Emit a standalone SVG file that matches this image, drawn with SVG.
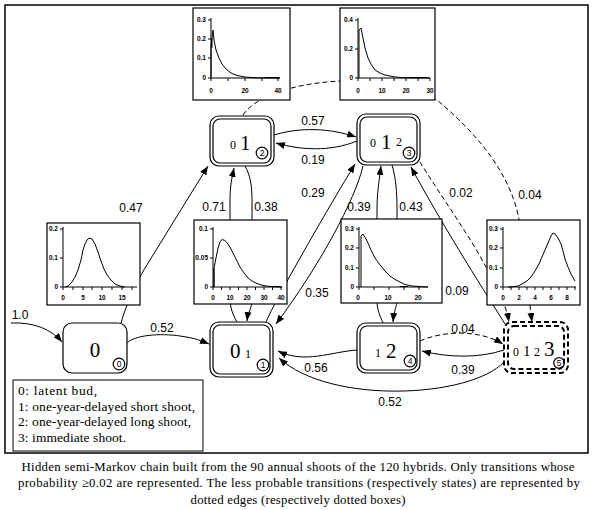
<svg xmlns="http://www.w3.org/2000/svg" width="597" height="510" viewBox="0 0 597 510">
<style>
.frame{fill:none;stroke:#000;stroke-width:1.5}
.nb{fill:#fff;stroke:#000;stroke-width:1.2}
.nd{fill:#fff;stroke:#000;stroke-width:2;stroke-dasharray:5 3}
.e{fill:none;stroke:#000;stroke-width:1;marker-end:url(#ah)}
.ed{fill:none;stroke:#000;stroke-width:1;stroke-dasharray:5 3}
.lab{font-family:"Liberation Sans",Arial,sans-serif;font-size:12px;text-anchor:middle;fill:#000}
.ser{font-family:"Liberation Serif","Times New Roman",serif;fill:#000}
.big{font-size:21px}
.sm{font-size:12px}
.cr{fill:none;stroke:#000;stroke-width:1.2}
.cd{font-family:"Liberation Sans",Arial,sans-serif;font-size:8.5px;text-anchor:middle;fill:#000}
.pbox{fill:#fff;stroke:#000;stroke-width:1.2}
.ax{fill:none;stroke:#000;stroke-width:1}
.cv{fill:none;stroke:#000;stroke-width:1}
.tk{font-family:"Liberation Sans",Arial,sans-serif;font-size:6.5px;font-weight:bold;fill:#000}
.ty{text-anchor:end}
.tx{text-anchor:middle}
.leg{font-family:"Liberation Serif","Times New Roman",serif;font-size:13.5px;fill:#000}
.cap{font-family:"Liberation Serif","Times New Roman",serif;font-size:12.8px;fill:#000;text-anchor:middle}
</style>
<defs>
<marker id="ah" markerWidth="9" markerHeight="7" refX="9" refY="3.5" orient="auto" markerUnits="userSpaceOnUse"><path d="M0,0 L9,3.5 L0,7 z" fill="#000"/></marker>
</defs>
<rect class="frame" x="5" y="5" width="583" height="448"/>

<g id="connectors">
<path class="e" d="M11,323 C35,322 52,330 62,342"/>
<path class="e" d="M127,343 C135,335 160,333 180,336 C195,338 202,341 209,344"/>
<path class="e" d="M121,323 C126,305 135,285 145,268 L208,166"/>
<path class="e" d="M237,322 C233,315 230,308 230,298 L230,200 C230,185 232,178 234,168"/>
<path class="e" d="M245,166 C250,175 252,185 252,200 L252,300 C252,308 248,312 247,321"/>
<path class="e" d="M266,322 C275,300 330,205 355,164"/>
<path class="e" d="M363,166 C355,200 320,265 276,324"/>
<path class="e" d="M274,135 C300,127 330,128 356,137"/>
<path class="e" d="M357,141 C330,152 300,150 276,143"/>
<path class="e" d="M392,165 C396,178 397,193 397,210 L397,300 C397,306 394,310 393,322"/>
<path class="e" d="M383,323 C380,316 377,310 377,300 L377,210 C377,193 379,182 381,166"/>
<path class="e" d="M357,350 C330,352 305,364 278,351"/>
<path class="e" d="M504,362 C470,398 330,405 279,358"/>
<path class="ed" marker-end="url(#ah)" d="M420,341 C445,330 480,330 503,344"/>
<path class="e" d="M504,350 C480,358 450,358 422,351"/>
<path class="e" d="M505,324 C490,300 445,230 411,167"/>
<path class="ed" marker-end="url(#ah)" d="M420,162 C440,195 480,250 492,280 C500,295 506,305 509,322"/>
<path class="ed" marker-end="url(#ah)" d="M243,115 C270,75 400,70 437,100 C470,128 512,170 520,225 L532,322"/>
<g>
<text class="lab" x="20" y="319">1.0</text>
<text class="lab" x="162" y="332">0.52</text>
<text class="lab" x="131" y="212">0.47</text>
<text class="lab" x="214" y="211">0.71</text>
<text class="lab" x="266" y="211">0.38</text>
<text class="lab" x="313" y="125">0.57</text>
<text class="lab" x="313" y="164">0.19</text>
<text class="lab" x="313" y="197">0.29</text>
<text class="lab" x="317" y="297">0.35</text>
<text class="lab" x="359" y="211">0.39</text>
<text class="lab" x="411" y="211">0.43</text>
<text class="lab" x="461" y="197">0.02</text>
<text class="lab" x="530" y="199">0.04</text>
<text class="lab" x="457" y="295">0.09</text>
<text class="lab" x="463" y="333">0.04</text>
<text class="lab" x="463" y="374">0.39</text>
<text class="lab" x="316" y="372">0.56</text>
<text class="lab" x="390" y="406">0.52</text>
</g>
</g>

<g id="plot-state2">
<rect class="pbox" x="193" y="8" width="97" height="92"/>
<path class="ax" d="M211,18 V78 H280 M208,20 H211 M208,39 H211 M208,58 H211 M208,78 H211 M211,78 V81 M228,78 V81 M245,78 V81 M262,78 V81 M278,78 V81"/>
<path class="cv" d="M211,78 L211,45 L212,38 L213,30 L214,40 L216,50 L219,58 L222,64 L226,69 L231,73 L237,75.5 L245,77 L255,77.8 L280,78"/>
<path class="ax" stroke-width="2" d="M212,38 V48 M265,77.5 H278"/>
<text class="tk ty" x="206" y="22">0.3</text><text class="tk ty" x="206" y="41">0.2</text><text class="tk ty" x="206" y="60">0.1</text><text class="tk ty" x="206" y="80">0</text>
<text class="tk tx" x="211" y="93">0</text><text class="tk tx" x="245" y="93">20</text><text class="tk tx" x="278" y="93">40</text>
</g>

<g id="plot-state3">
<rect class="pbox" x="340" y="8" width="95" height="92"/>
<path class="ax" d="M358,18 V78 H430 M355,20 H358 M355,49 H358 M355,78 H358 M358,78 V81 M370,78 V81 M382,78 V81 M394,78 V81 M406,78 V81 M418,78 V81 M430,78 V81"/>
<path class="cv" d="M359,78 L359,30 L361,28 L363,38 L365,48 L368,58 L371,64 L375,70 L380,73 L385,75 L395,77 L405,77.8 L430,78"/>
<path class="ax" stroke-width="2" d="M409,77.5 H427"/>
<text class="tk ty" x="353" y="22">0.4</text><text class="tk ty" x="353" y="51">0.2</text><text class="tk ty" x="353" y="80">0</text>
<text class="tk tx" x="358" y="93">0</text><text class="tk tx" x="382" y="93">10</text><text class="tk tx" x="406" y="93">20</text><text class="tk tx" x="430" y="93">30</text>
</g>

<g id="plot-state0">
<rect class="pbox" x="47" y="223" width="93" height="82"/>
<path class="ax" d="M63,227 V287 H137 M60,229 H63 M60,258 H63 M60,287 H63 M63,287 V290 M73,287 V290 M83,287 V290 M92,287 V290 M102,287 V290 M112,287 V290 M122,287 V290 M132,287 V290"/>
<path class="cv" d="M65,287 L68,286 L72,282 L75,277 L78,270 L81,260 L83,250 L85,244 L87,240 L89,238 L92,239 L95,244 L98,252 L101,261 L104,269 L107,275 L111,280 L115,284 L120,286 L125,287"/>
<text class="tk ty" x="58" y="231">0.2</text><text class="tk ty" x="58" y="260">0.1</text><text class="tk ty" x="58" y="289">0</text>
<text class="tk tx" x="63" y="300">0</text><text class="tk tx" x="83" y="300">5</text><text class="tk tx" x="102" y="300">10</text><text class="tk tx" x="122" y="300">15</text>
</g>

<g id="plot-state1">
<rect class="pbox" x="194" y="220" width="93" height="84"/>
<path class="ax" d="M213,227 V287 H282 M210,229 H213 M210,258 H213 M210,287 H213 M213,287 V290 M221.5,287 V290 M230,287 V290 M238.5,287 V290 M247,287 V290 M255.5,287 V290 M264,287 V290 M272.5,287 V290 M281,287 V290"/>
<path class="cv" d="M214,287 L214,268 L216,258 L218,248 L220,242 L222,239.5 L225,240.5 L228,244 L231,249 L234,255 L237,261 L240,267 L244,273 L248,278 L252,281 L257,283.5 L263,285.5 L270,286.5 L282,287"/>
<path class="ax" stroke-width="2" d="M214,268 V287 M268,286.5 H280"/>
<text class="tk ty" x="208" y="231">0.1</text><text class="tk ty" x="208" y="260">0.05</text><text class="tk ty" x="208" y="289">0</text>
<text class="tk tx" x="213" y="300">0</text><text class="tk tx" x="230" y="300">10</text><text class="tk tx" x="247" y="300">20</text><text class="tk tx" x="264" y="300">30</text><text class="tk tx" x="281" y="300">40</text>
</g>

<g id="plot-state4">
<rect class="pbox" x="341" y="219" width="101" height="84"/>
<path class="ax" d="M359,227 V287 H428 M356,229 H359 M356,248 H359 M356,268 H359 M356,287 H359 M359,287 V290 M374,287 V290 M389,287 V290 M404,287 V290 M419,287 V290"/>
<path class="cv" d="M361,287 L361,236 L363,234 L366,239 L368,243 L371,250 L375,258 L380,265 L385,271 L390,276 L395,279.5 L400,282 L405,284.5 L412,286 L428,287"/>
<path class="ax" stroke-width="2" d="M400,286.5 H408"/>
<text class="tk ty" x="354" y="231">0.3</text><text class="tk ty" x="354" y="250">0.2</text><text class="tk ty" x="354" y="270">0.1</text><text class="tk ty" x="354" y="289">0</text>
<text class="tk tx" x="358" y="300">0</text><text class="tk tx" x="388" y="300">10</text><text class="tk tx" x="418" y="300">20</text>
</g>

<g id="plot-state5">
<rect class="pbox" x="487" y="220" width="93" height="85"/>
<path class="ax" d="M503,227 V287 H576 M500,229 H503 M500,248 H503 M500,268 H503 M500,287 H503 M503,287 V290 M511,287 V290 M519,287 V290 M527,287 V290 M535,287 V290 M543,287 V290 M551,287 V290 M559,287 V290 M567,287 V290 M575,287 V290"/>
<path class="cv" d="M508,287 L512,286.8 L518,286 L522,284 L527,281 L531,277 L535,271 L539,264 L542,257 L545,250 L548,243 L551,236 L553,233 L555,234 L558,238 L561,244 L563,251 L565,259 L568,267 L571,274 L575,281"/>
<text class="tk ty" x="498" y="231">0.3</text><text class="tk ty" x="498" y="250">0.2</text><text class="tk ty" x="498" y="270">0.1</text><text class="tk ty" x="498" y="289">0</text>
<text class="tk tx" x="503" y="300">0</text><text class="tk tx" x="519" y="300">2</text><text class="tk tx" x="535" y="300">4</text><text class="tk tx" x="551" y="300">6</text><text class="tk tx" x="567" y="300">8</text>
</g>

<g id="node-0">
<rect class="nb" x="63" y="323" width="64" height="50" rx="9"/>
<text class="ser big" x="95" y="357" text-anchor="middle">0</text>
<circle class="cr" cx="119" cy="364" r="5.8"/><text class="cd" x="119" y="367">0</text>
</g>

<g id="node-1">
<rect class="nb" x="210" y="322" width="63" height="55" rx="9"/>
<rect class="nb" x="213" y="325" width="57" height="49" rx="7"/>
<text class="ser big" x="230" y="358">0</text>
<text class="ser sm" x="245" y="358">1</text>
<circle class="cr" cx="263" cy="365" r="5.8"/><text class="cd" x="263" y="368">1</text>
</g>

<g id="node-2">
<rect class="nb" x="210" y="116" width="64" height="50" rx="9"/>
<rect class="nb" x="213" y="119" width="58" height="44" rx="7"/>
<text class="ser sm" x="230" y="149">0</text>
<text class="ser big" x="240" y="150">1</text>
<circle class="cr" cx="262" cy="153" r="5.8"/><text class="cd" x="262" y="156">2</text>
</g>

<g id="node-3">
<rect class="nb" x="357" y="114" width="63" height="51" rx="9"/>
<rect class="nb" x="360" y="117" width="57" height="45" rx="7"/>
<text class="ser sm" x="370" y="147">0</text>
<text class="ser big" x="381" y="149">1</text>
<text class="ser sm" x="396" y="146">2</text>
<circle class="cr" cx="409" cy="153" r="5.8"/><text class="cd" x="409" y="156">3</text>
</g>

<g id="node-4">
<rect class="nb" x="357" y="323" width="63" height="50" rx="9"/>
<rect class="nb" x="360" y="326" width="57" height="44" rx="7"/>
<text class="ser sm" x="375" y="357">1</text>
<text class="ser big" x="386" y="358">2</text>
<circle class="cr" cx="410" cy="361" r="5.8"/><text class="cd" x="410" y="364">4</text>
</g>

<g id="node-5">
<rect class="nd" x="504" y="322" width="64" height="51" rx="8"/>
<rect class="nd" x="508" y="326" width="56" height="43" rx="6"/>
<text class="ser sm" x="513" y="356">0</text>
<text class="ser" font-size="15" x="523" y="356">1</text>
<text class="ser sm" x="534" y="356">2</text>
<text class="ser big" x="544" y="356">3</text>
<circle class="cr" cx="559" cy="363" r="5.3"/><text class="cd" x="559" y="366">5</text>
</g>

<g id="legend">
<rect x="13" y="380" width="190" height="71" fill="#fff" stroke="#000" stroke-width="1"/>
<text class="leg" x="18" y="395" textLength="79" lengthAdjust="spacing">0: latent bud,</text>
<text class="leg" x="18" y="411" textLength="177" lengthAdjust="spacing">1: one-year-delayed short shoot,</text>
<text class="leg" x="18" y="426" textLength="173" lengthAdjust="spacing">2: one-year-delayed long shoot,</text>
<text class="leg" x="18" y="442" textLength="108" lengthAdjust="spacing">3: immediate shoot.</text>
</g>

<g id="caption">
<text class="cap" x="298" y="471" textLength="553" lengthAdjust="spacing">Hidden semi-Markov chain built from the 90 annual shoots of the 120 hybrids. Only transitions whose</text>
<text class="cap" x="299" y="487" textLength="562" lengthAdjust="spacing">probability ≥0.02 are represented. The less probable transitions (respectively states) are represented by</text>
<text class="cap" x="298" y="504" textLength="215" lengthAdjust="spacing">dotted edges (respectively dotted boxes)</text>
</g>
</svg>
